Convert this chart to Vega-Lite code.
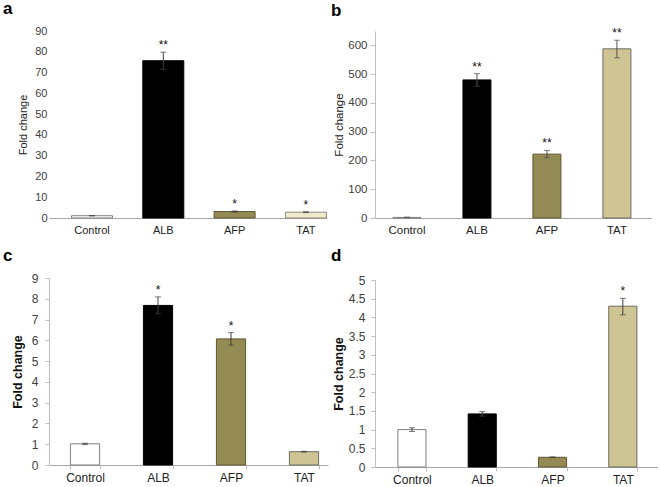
{
  "$schema": "https://vega.github.io/schema/vega-lite/v6.json",
  "padding": {"left": 3, "top": 0, "right": 0, "bottom": 0},
  "background": "white",
  "config": {
    "font": "Liberation Sans",
    "view": {"stroke": null},
    "axis": {"grid": false, "labelFont": "Liberation Sans", "titleFont": "Liberation Sans", "labelOverlap": false},
    "title": {"font": "Liberation Sans", "fontSize": 17, "fontWeight": "bold", "color": "black", "anchor": "start", "frame": "group"}
  },
  "data": {
    "values": [
      {"panel": "a", "gene": "Control", "value": 1.1, "lo": 1.0, "hi": 1.2, "sig": ""},
      {"panel": "a", "gene": "ALB", "value": 75.7, "lo": 71.6, "hi": 79.8, "sig": "**"},
      {"panel": "a", "gene": "AFP", "value": 3.1, "lo": 2.8, "hi": 3.4, "sig": "*"},
      {"panel": "a", "gene": "TAT", "value": 2.8, "lo": 2.6, "hi": 3.0, "sig": "*"},
      {"panel": "b", "gene": "Control", "value": 2, "lo": 1, "hi": 3, "sig": ""},
      {"panel": "b", "gene": "ALB", "value": 480, "lo": 458, "hi": 502, "sig": "**"},
      {"panel": "b", "gene": "AFP", "value": 222, "lo": 210, "hi": 235, "sig": "**"},
      {"panel": "b", "gene": "TAT", "value": 588, "lo": 557, "hi": 618, "sig": "**"},
      {"panel": "c", "gene": "Control", "value": 1.02, "lo": 0.98, "hi": 1.05, "sig": ""},
      {"panel": "c", "gene": "ALB", "value": 7.68, "lo": 7.28, "hi": 8.09, "sig": "*"},
      {"panel": "c", "gene": "AFP", "value": 6.07, "lo": 5.77, "hi": 6.37, "sig": "*"},
      {"panel": "c", "gene": "TAT", "value": 0.64, "lo": 0.62, "hi": 0.66, "sig": ""},
      {"panel": "d", "gene": "Control", "value": 1.0, "lo": 0.95, "hi": 1.05, "sig": ""},
      {"panel": "d", "gene": "ALB", "value": 1.42, "lo": 1.36, "hi": 1.48, "sig": ""},
      {"panel": "d", "gene": "AFP", "value": 0.26, "lo": 0.25, "hi": 0.27, "sig": ""},
      {"panel": "d", "gene": "TAT", "value": 4.3, "lo": 4.07, "hi": 4.51, "sig": "*"}
    ]
  },
  "columns": 2,
  "align": "none",
  "spacing": {"row": 11, "column": 3},
  "resolve": {"scale": {"fill": "independent", "stroke": "independent", "x": "independent", "y": "independent"}},
  "concat": [
    {
      "width": 278, "height": 187,
      "title": {"text": "a", "dx": -46, "offset": 7},
      "transform": [{"filter": "datum.panel == 'a'"}],
      "encoding": {
        "x": {"field": "gene", "type": "nominal", "sort": ["Control", "ALB", "AFP", "TAT"],
          "scale": {"paddingInner": 0.425, "paddingOuter": 0.162, "align": 0.974},
          "axis": {"title": null, "labelAngle": 0, "ticks": false, "domainColor": "#a6a6a6", "labelPadding": 6, "labelFontSize": 11, "labelColor": "#222222"}}
      },
      "layer": [
        {"mark": {"type": "bar", "strokeWidth": 1},
          "encoding": {
            "y": {"field": "value", "type": "quantitative", "title": "Fold change", "scale": {"domain": [0, 90], "nice": false},
              "axis": {"values": [0, 10, 20, 30, 40, 50, 60, 70, 80, 90], "labelOverlap": false, "domain": false, "ticks": false, "labelPadding": 2, "titlePadding": 6, "labelFontSize": 11, "titleFontSize": 11, "titleFontWeight": "normal", "labelColor": "#404040", "titleColor": "#222222"}},
            "fill": {"field": "gene", "type": "nominal", "legend": null, "scale": {"domain": ["Control", "ALB", "AFP", "TAT"], "range": ["#ffffff", "#000000", "#948a54", "#eeeaca"]}},
            "stroke": {"field": "gene", "type": "nominal", "legend": null, "scale": {"domain": ["Control", "ALB", "AFP", "TAT"], "range": ["#7f7f7f", "#000000", "#5f5732", "#8a8a80"]}}
          }},
        {"mark": {"type": "rule", "color": "#404040", "strokeWidth": 1},
          "encoding": {"y": {"field": "lo", "type": "quantitative", "title": "Fold change", "axis": {"values": [0, 10, 20, 30, 40, 50, 60, 70, 80, 90], "labelOverlap": false, "domain": false, "ticks": false, "labelPadding": 2, "titlePadding": 6, "labelFontSize": 11, "titleFontSize": 11, "titleFontWeight": "normal", "labelColor": "#404040", "titleColor": "#222222"}}, "y2": {"field": "hi"}}},
        {"mark": {"type": "tick", "color": "#404040", "size": 6, "thickness": 1},
          "encoding": {"y": {"field": "hi", "type": "quantitative", "title": "Fold change", "axis": {"values": [0, 10, 20, 30, 40, 50, 60, 70, 80, 90], "labelOverlap": false, "domain": false, "ticks": false, "labelPadding": 2, "titlePadding": 6, "labelFontSize": 11, "titleFontSize": 11, "titleFontWeight": "normal", "labelColor": "#404040", "titleColor": "#222222"}}}},
        {"mark": {"type": "tick", "color": "#404040", "size": 6, "thickness": 1},
          "encoding": {"y": {"field": "lo", "type": "quantitative", "title": "Fold change", "axis": {"values": [0, 10, 20, 30, 40, 50, 60, 70, 80, 90], "labelOverlap": false, "domain": false, "ticks": false, "labelPadding": 2, "titlePadding": 6, "labelFontSize": 11, "titleFontSize": 11, "titleFontWeight": "normal", "labelColor": "#404040", "titleColor": "#222222"}}}},
        {"mark": {"type": "text", "baseline": "alphabetic", "dy": -3, "fontSize": 12, "color": "#111111"},
          "encoding": {"y": {"field": "hi", "type": "quantitative", "title": "Fold change", "axis": {"values": [0, 10, 20, 30, 40, 50, 60, 70, 80, 90], "labelOverlap": false, "domain": false, "ticks": false, "labelPadding": 2, "titlePadding": 6, "labelFontSize": 11, "titleFontSize": 11, "titleFontWeight": "normal", "labelColor": "#404040", "titleColor": "#222222"}}, "text": {"field": "sig"}}}
      ]
    },
    {
      "width": 277, "height": 187,
      "title": {"text": "b", "dx": -44, "offset": 7},
      "transform": [{"filter": "datum.panel == 'b'"}],
      "encoding": {
        "x": {"field": "gene", "type": "nominal", "sort": ["Control", "ALB", "AFP", "TAT"],
          "scale": {"paddingInner": 0.6, "paddingOuter": 0.279, "align": 0.46},
          "axis": {"title": null, "labelAngle": 0, "ticks": false, "domainColor": "#a6a6a6", "labelPadding": 6, "labelFontSize": 11.5, "labelColor": "#222222"}}
      },
      "layer": [
        {"mark": {"type": "bar", "strokeWidth": 1},
          "encoding": {
            "y": {"field": "value", "type": "quantitative", "title": "Fold change", "scale": {"domain": [0, 650], "nice": false},
              "axis": {"values": [0, 100, 200, 300, 400, 500, 600], "labelOverlap": false, "domain": true, "domainColor": "#bfbfbf", "ticks": true, "tickColor": "#bfbfbf", "tickSize": 5, "labelPadding": 3, "titlePadding": 3, "labelFontSize": 11.5, "titleFontSize": 11.5, "titleFontWeight": "normal", "labelColor": "#404040", "titleColor": "#222222"}},
            "fill": {"field": "gene", "type": "nominal", "legend": null, "scale": {"domain": ["Control", "ALB", "AFP", "TAT"], "range": ["#ffffff", "#000000", "#948a54", "#cfc594"]}},
            "stroke": {"field": "gene", "type": "nominal", "legend": null, "scale": {"domain": ["Control", "ALB", "AFP", "TAT"], "range": ["#7f7f7f", "#000000", "#5f5732", "#6b6b60"]}}
          }},
        {"mark": {"type": "rule", "color": "#505050", "strokeWidth": 1},
          "encoding": {"y": {"field": "lo", "type": "quantitative", "title": "Fold change", "axis": {"values": [0, 100, 200, 300, 400, 500, 600], "labelOverlap": false, "domain": true, "domainColor": "#bfbfbf", "ticks": true, "tickColor": "#bfbfbf", "tickSize": 5, "labelPadding": 3, "titlePadding": 3, "labelFontSize": 11.5, "titleFontSize": 11.5, "titleFontWeight": "normal", "labelColor": "#404040", "titleColor": "#222222"}}, "y2": {"field": "hi"}}},
        {"mark": {"type": "tick", "color": "#505050", "size": 6, "thickness": 1},
          "encoding": {"y": {"field": "hi", "type": "quantitative", "title": "Fold change", "axis": {"values": [0, 100, 200, 300, 400, 500, 600], "labelOverlap": false, "domain": true, "domainColor": "#bfbfbf", "ticks": true, "tickColor": "#bfbfbf", "tickSize": 5, "labelPadding": 3, "titlePadding": 3, "labelFontSize": 11.5, "titleFontSize": 11.5, "titleFontWeight": "normal", "labelColor": "#404040", "titleColor": "#222222"}}}},
        {"mark": {"type": "tick", "color": "#505050", "size": 6, "thickness": 1},
          "encoding": {"y": {"field": "lo", "type": "quantitative", "title": "Fold change", "axis": {"values": [0, 100, 200, 300, 400, 500, 600], "labelOverlap": false, "domain": true, "domainColor": "#bfbfbf", "ticks": true, "tickColor": "#bfbfbf", "tickSize": 5, "labelPadding": 3, "titlePadding": 3, "labelFontSize": 11.5, "titleFontSize": 11.5, "titleFontWeight": "normal", "labelColor": "#404040", "titleColor": "#222222"}}}},
        {"mark": {"type": "text", "baseline": "alphabetic", "dy": -3, "fontSize": 12, "color": "#111111"},
          "encoding": {"y": {"field": "hi", "type": "quantitative", "title": "Fold change", "axis": {"values": [0, 100, 200, 300, 400, 500, 600], "labelOverlap": false, "domain": true, "domainColor": "#bfbfbf", "ticks": true, "tickColor": "#bfbfbf", "tickSize": 5, "labelPadding": 3, "titlePadding": 3, "labelFontSize": 11.5, "titleFontSize": 11.5, "titleFontWeight": "normal", "labelColor": "#404040", "titleColor": "#222222"}}, "text": {"field": "sig"}}}
      ]
    },
    {
      "width": 279, "height": 187,
      "title": {"text": "c", "dx": -46, "offset": 7},
      "transform": [{"filter": "datum.panel == 'c'"}],
      "encoding": {
        "x": {"field": "gene", "type": "nominal", "sort": ["Control", "ALB", "AFP", "TAT"],
          "scale": {"paddingInner": 0.6, "paddingOuter": 0.211, "align": 0.695},
          "axis": {"title": null, "labelAngle": 0, "ticks": true, "tickBand": "extent", "tickSize": 4, "tickColor": "#bfbfbf", "domainColor": "#a6a6a6", "labelPadding": 3, "labelFontSize": 12, "labelColor": "#222222"}}
      },
      "layer": [
        {"mark": {"type": "bar", "strokeWidth": 1},
          "encoding": {
            "y": {"field": "value", "type": "quantitative", "title": "Fold change", "scale": {"domain": [0, 9], "nice": false},
              "axis": {"values": [0, 1, 2, 3, 4, 5, 6, 7, 8, 9], "labelOverlap": false, "domain": true, "domainColor": "#bfbfbf", "ticks": true, "tickColor": "#bfbfbf", "tickSize": 4, "labelPadding": 7, "titlePadding": 7, "labelFontSize": 12, "titleFontSize": 12.5, "titleFontWeight": "bold", "labelColor": "#404040", "titleColor": "#111111"}},
            "fill": {"field": "gene", "type": "nominal", "legend": null, "scale": {"domain": ["Control", "ALB", "AFP", "TAT"], "range": ["#ffffff", "#000000", "#948a54", "#cfc594"]}},
            "stroke": {"field": "gene", "type": "nominal", "legend": null, "scale": {"domain": ["Control", "ALB", "AFP", "TAT"], "range": ["#7f7f7f", "#000000", "#5f5732", "#6b6b60"]}}
          }},
        {"mark": {"type": "rule", "color": "#404040", "strokeWidth": 1},
          "encoding": {"y": {"field": "lo", "type": "quantitative", "title": "Fold change", "axis": {"values": [0, 1, 2, 3, 4, 5, 6, 7, 8, 9], "labelOverlap": false, "domain": true, "domainColor": "#bfbfbf", "ticks": true, "tickColor": "#bfbfbf", "tickSize": 4, "labelPadding": 7, "titlePadding": 7, "labelFontSize": 12, "titleFontSize": 12.5, "titleFontWeight": "bold", "labelColor": "#404040", "titleColor": "#111111"}}, "y2": {"field": "hi"}}},
        {"mark": {"type": "tick", "color": "#404040", "size": 6, "thickness": 1},
          "encoding": {"y": {"field": "hi", "type": "quantitative", "title": "Fold change", "axis": {"values": [0, 1, 2, 3, 4, 5, 6, 7, 8, 9], "labelOverlap": false, "domain": true, "domainColor": "#bfbfbf", "ticks": true, "tickColor": "#bfbfbf", "tickSize": 4, "labelPadding": 7, "titlePadding": 7, "labelFontSize": 12, "titleFontSize": 12.5, "titleFontWeight": "bold", "labelColor": "#404040", "titleColor": "#111111"}}}},
        {"mark": {"type": "tick", "color": "#404040", "size": 6, "thickness": 1},
          "encoding": {"y": {"field": "lo", "type": "quantitative", "title": "Fold change", "axis": {"values": [0, 1, 2, 3, 4, 5, 6, 7, 8, 9], "labelOverlap": false, "domain": true, "domainColor": "#bfbfbf", "ticks": true, "tickColor": "#bfbfbf", "tickSize": 4, "labelPadding": 7, "titlePadding": 7, "labelFontSize": 12, "titleFontSize": 12.5, "titleFontWeight": "bold", "labelColor": "#404040", "titleColor": "#111111"}}}},
        {"mark": {"type": "text", "baseline": "alphabetic", "dy": -3, "fontSize": 12, "color": "#111111"},
          "encoding": {"y": {"field": "hi", "type": "quantitative", "title": "Fold change", "axis": {"values": [0, 1, 2, 3, 4, 5, 6, 7, 8, 9], "labelOverlap": false, "domain": true, "domainColor": "#bfbfbf", "ticks": true, "tickColor": "#bfbfbf", "tickSize": 4, "labelPadding": 7, "titlePadding": 7, "labelFontSize": 12, "titleFontSize": 12.5, "titleFontWeight": "bold", "labelColor": "#404040", "titleColor": "#111111"}}, "text": {"field": "sig"}}}
      ]
    },
    {
      "width": 283, "height": 187,
      "title": {"text": "d", "dx": -44, "offset": 9},
      "transform": [{"filter": "datum.panel == 'd'"}],
      "encoding": {
        "x": {"field": "gene", "type": "nominal", "sort": ["Control", "ALB", "AFP", "TAT"],
          "scale": {"paddingInner": 0.6, "paddingOuter": 0.313, "align": 0.52},
          "axis": {"title": null, "labelAngle": 0, "ticks": true, "tickBand": "extent", "tickSize": 4, "tickColor": "#bfbfbf", "domainColor": "#a6a6a6", "labelPadding": 3, "labelFontSize": 12, "labelColor": "#222222"}}
      },
      "layer": [
        {"mark": {"type": "bar", "strokeWidth": 1},
          "encoding": {
            "y": {"field": "value", "type": "quantitative", "title": "Fold change", "scale": {"domain": [0, 5], "nice": false},
              "axis": {"values": [0, 0.5, 1, 1.5, 2, 2.5, 3, 3.5, 4, 4.5, 5], "labelOverlap": false, "format": "~g", "domain": true, "domainColor": "#bfbfbf", "ticks": true, "tickColor": "#bfbfbf", "tickSize": 4, "labelPadding": 6, "titlePadding": 3, "labelFontSize": 12, "titleFontSize": 12.5, "titleFontWeight": "bold", "labelColor": "#404040", "titleColor": "#111111"}},
            "fill": {"field": "gene", "type": "nominal", "legend": null, "scale": {"domain": ["Control", "ALB", "AFP", "TAT"], "range": ["#ffffff", "#000000", "#948a54", "#cfc594"]}},
            "stroke": {"field": "gene", "type": "nominal", "legend": null, "scale": {"domain": ["Control", "ALB", "AFP", "TAT"], "range": ["#7f7f7f", "#000000", "#5f5732", "#6b6b60"]}}
          }},
        {"mark": {"type": "rule", "color": "#404040", "strokeWidth": 1},
          "encoding": {"y": {"field": "lo", "type": "quantitative", "title": "Fold change", "axis": {"values": [0, 0.5, 1, 1.5, 2, 2.5, 3, 3.5, 4, 4.5, 5], "labelOverlap": false, "format": "~g", "domain": true, "domainColor": "#bfbfbf", "ticks": true, "tickColor": "#bfbfbf", "tickSize": 4, "labelPadding": 6, "titlePadding": 3, "labelFontSize": 12, "titleFontSize": 12.5, "titleFontWeight": "bold", "labelColor": "#404040", "titleColor": "#111111"}}, "y2": {"field": "hi"}}},
        {"mark": {"type": "tick", "color": "#404040", "size": 6, "thickness": 1},
          "encoding": {"y": {"field": "hi", "type": "quantitative", "title": "Fold change", "axis": {"values": [0, 0.5, 1, 1.5, 2, 2.5, 3, 3.5, 4, 4.5, 5], "labelOverlap": false, "format": "~g", "domain": true, "domainColor": "#bfbfbf", "ticks": true, "tickColor": "#bfbfbf", "tickSize": 4, "labelPadding": 6, "titlePadding": 3, "labelFontSize": 12, "titleFontSize": 12.5, "titleFontWeight": "bold", "labelColor": "#404040", "titleColor": "#111111"}}}},
        {"mark": {"type": "tick", "color": "#404040", "size": 6, "thickness": 1},
          "encoding": {"y": {"field": "lo", "type": "quantitative", "title": "Fold change", "axis": {"values": [0, 0.5, 1, 1.5, 2, 2.5, 3, 3.5, 4, 4.5, 5], "labelOverlap": false, "format": "~g", "domain": true, "domainColor": "#bfbfbf", "ticks": true, "tickColor": "#bfbfbf", "tickSize": 4, "labelPadding": 6, "titlePadding": 3, "labelFontSize": 12, "titleFontSize": 12.5, "titleFontWeight": "bold", "labelColor": "#404040", "titleColor": "#111111"}}}},
        {"mark": {"type": "text", "baseline": "alphabetic", "dy": -3, "fontSize": 12, "color": "#111111"},
          "encoding": {"y": {"field": "hi", "type": "quantitative", "title": "Fold change", "axis": {"values": [0, 0.5, 1, 1.5, 2, 2.5, 3, 3.5, 4, 4.5, 5], "labelOverlap": false, "format": "~g", "domain": true, "domainColor": "#bfbfbf", "ticks": true, "tickColor": "#bfbfbf", "tickSize": 4, "labelPadding": 6, "titlePadding": 3, "labelFontSize": 12, "titleFontSize": 12.5, "titleFontWeight": "bold", "labelColor": "#404040", "titleColor": "#111111"}}, "text": {"field": "sig"}}}
      ]
    }
  ]
}
